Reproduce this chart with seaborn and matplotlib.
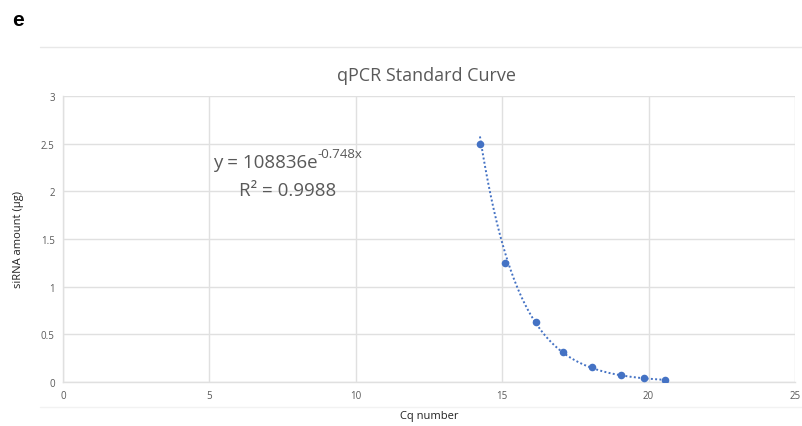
import numpy as np
import pandas as pd
import matplotlib
matplotlib.use("Agg")
import matplotlib.pyplot as plt
import seaborn as sns

# Data
cq_number = [14.24, 15.10, 16.15, 17.09, 18.08, 19.05, 19.83, 20.57]
sirna_amount = [2.5, 1.25, 0.625, 0.3125, 0.15625, 0.078125, 0.0390625, 0.01953125]

# Displayed trendline coefficients
fit_a = 108836
fit_b = -0.748
r_squared = 0.9988

x_ticks = [0, 5, 10, 15, 20, 25]
y_ticks = [0, 0.5, 1, 1.5, 2, 2.5, 3]
y_tick_labels = ["0", "0.5", "1", "1.5", "2", "2.5", "3"]

sns.set_theme(style="white")
plt.rcParams['font.family'] = ['Open Sans', 'DejaVu Sans']

df = pd.DataFrame({"Cq number": cq_number, "siRNA amount (µg)": sirna_amount})
xs = np.linspace(min(cq_number), max(cq_number), 200)
trend = pd.DataFrame({"x": xs, "y": fit_a * np.exp(fit_b * xs)})

fig = plt.figure(figsize=(8.03, 4.27), dpi=100)
ax = fig.add_axes([63/803, 44/427, (795-63)/803, (383-97)/427])

blue = "#4472C4"
grid_c = "#e0e0e0"
text_c = "#595959"

sns.lineplot(data=trend, x="x", y="y", ax=ax, color=blue, linestyle=(0, (1, 1.2)), linewidth=1.4)
sns.scatterplot(data=df, x="Cq number", y="siRNA amount (µg)", ax=ax, color=blue, s=30, edgecolor=blue, linewidth=0, zorder=5)

ax.set_xlim(0, 25)
ax.set_ylim(0, 3)
ax.set_xticks(x_ticks)
ax.set_yticks(y_ticks)
ax.set_yticklabels(y_tick_labels)
ax.grid(True, color=grid_c, linewidth=1)
ax.set_axisbelow(True)
for s in ["top", "right"]:
    ax.spines[s].set_visible(False)
for s in ["left", "bottom"]:
    ax.spines[s].set_color(grid_c)
    ax.spines[s].set_linewidth(1)
ax.tick_params(axis="both", length=0, labelsize=7, labelcolor=text_c, pad=6)
ax.set_xlabel("Cq number", fontsize=8, color="#222222", labelpad=6)
ax.set_ylabel("siRNA amount (µg)", fontsize=8, color="#222222", labelpad=12)

fig.text(427/803, 1 - 76/427, "qPCR Standard Curve", ha="center", va="center", fontsize=13, color=text_c)
fig.text(12/803, 1 - 20/427, "e", ha="left", va="center", fontsize=15, fontweight="bold",
         color="black", family=["Liberation Sans", "DejaVu Sans"])

t1 = ax.text(0.205, 0.77, "y = 108836e", transform=ax.transAxes,
             ha="left", va="center", fontsize=13.5, color=text_c)
ax.annotate("-0.748x", xy=(1.0, 0.62), xycoords=t1, ha="left", va="bottom",
            fontsize=9.5, color=text_c)
ax.text(0.24, 0.67, "R² = 0.9988", transform=ax.transAxes,
        ha="left", va="center", fontsize=13.5, color=text_c)

# decorative separator lines
fig.add_artist(plt.Line2D([40/803, 1.0], [1 - 48/427, 1 - 48/427], color="#e8e8e8", linewidth=1))
fig.add_artist(plt.Line2D([40/803, 1.0], [1 - 408/427, 1 - 408/427], color="#f2f2f2", linewidth=1))

fig.savefig("out.png", dpi=100)
